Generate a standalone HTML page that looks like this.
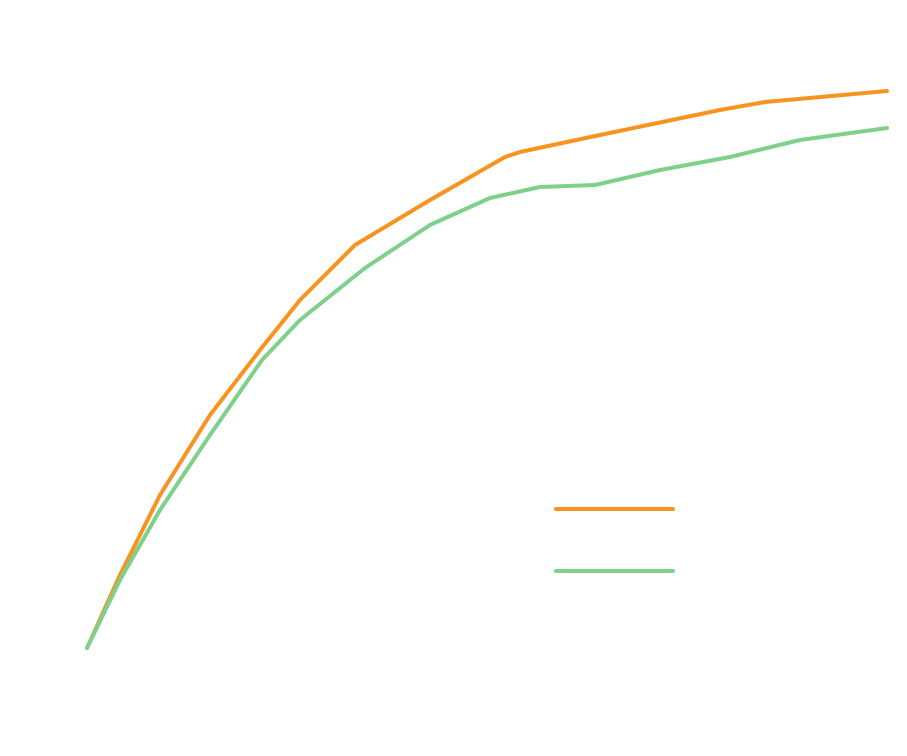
<!DOCTYPE html>
<html><head><meta charset="utf-8"><style>
html,body{margin:0;padding:0;background:#fff;width:907px;height:756px;overflow:hidden}
svg{display:block}
text{font-family:"Liberation Sans",sans-serif;fill:#fff}
</style></head><body>
<svg width="907" height="756" viewBox="0 0 907 756">
<rect width="907" height="756" fill="#fff"/>
<text x="145" y="38" font-size="30" font-weight="bold">20" Wheel 36V Voltage Output Test</text>
<text x="700" y="450" font-size="24">Model</text>
<text x="705" y="516" font-size="24">Ours</text>
<text x="705" y="580" font-size="24">German Brand</text>
<text x="720" y="745" font-size="22">Speed (mph)</text>
<g font-size="14">
<text x="82" y="695">0</text><text x="213" y="695">5</text><text x="343" y="695">10</text>
<text x="478" y="695">15</text><text x="612" y="695">20</text><text x="745" y="695">25</text><text x="875" y="695">30</text>
</g>
<polyline fill="none" stroke="#F7931E" stroke-width="4" stroke-linejoin="round" stroke-linecap="round"
points="87,648 120,575 160,495 210,415 260,350 300,300 355,245 430,200 505,157 520,152 600,135 720,110 765,102 887,91"/>
<polyline fill="none" stroke="#7ED08A" stroke-width="4" stroke-linejoin="round" stroke-linecap="round"
points="87,648 120,580 160,510 210,435 262,360 300,320 365,268 430,225 490,198 540,187 595,185 660,170 730,157 800,140 887,128"/>
<line x1="556" y1="509" x2="673" y2="509" stroke="#F7931E" stroke-width="4" stroke-linecap="round"/>
<line x1="556" y1="571" x2="673" y2="571" stroke="#7ED08A" stroke-width="4" stroke-linecap="round"/>
</svg>
</body></html>
